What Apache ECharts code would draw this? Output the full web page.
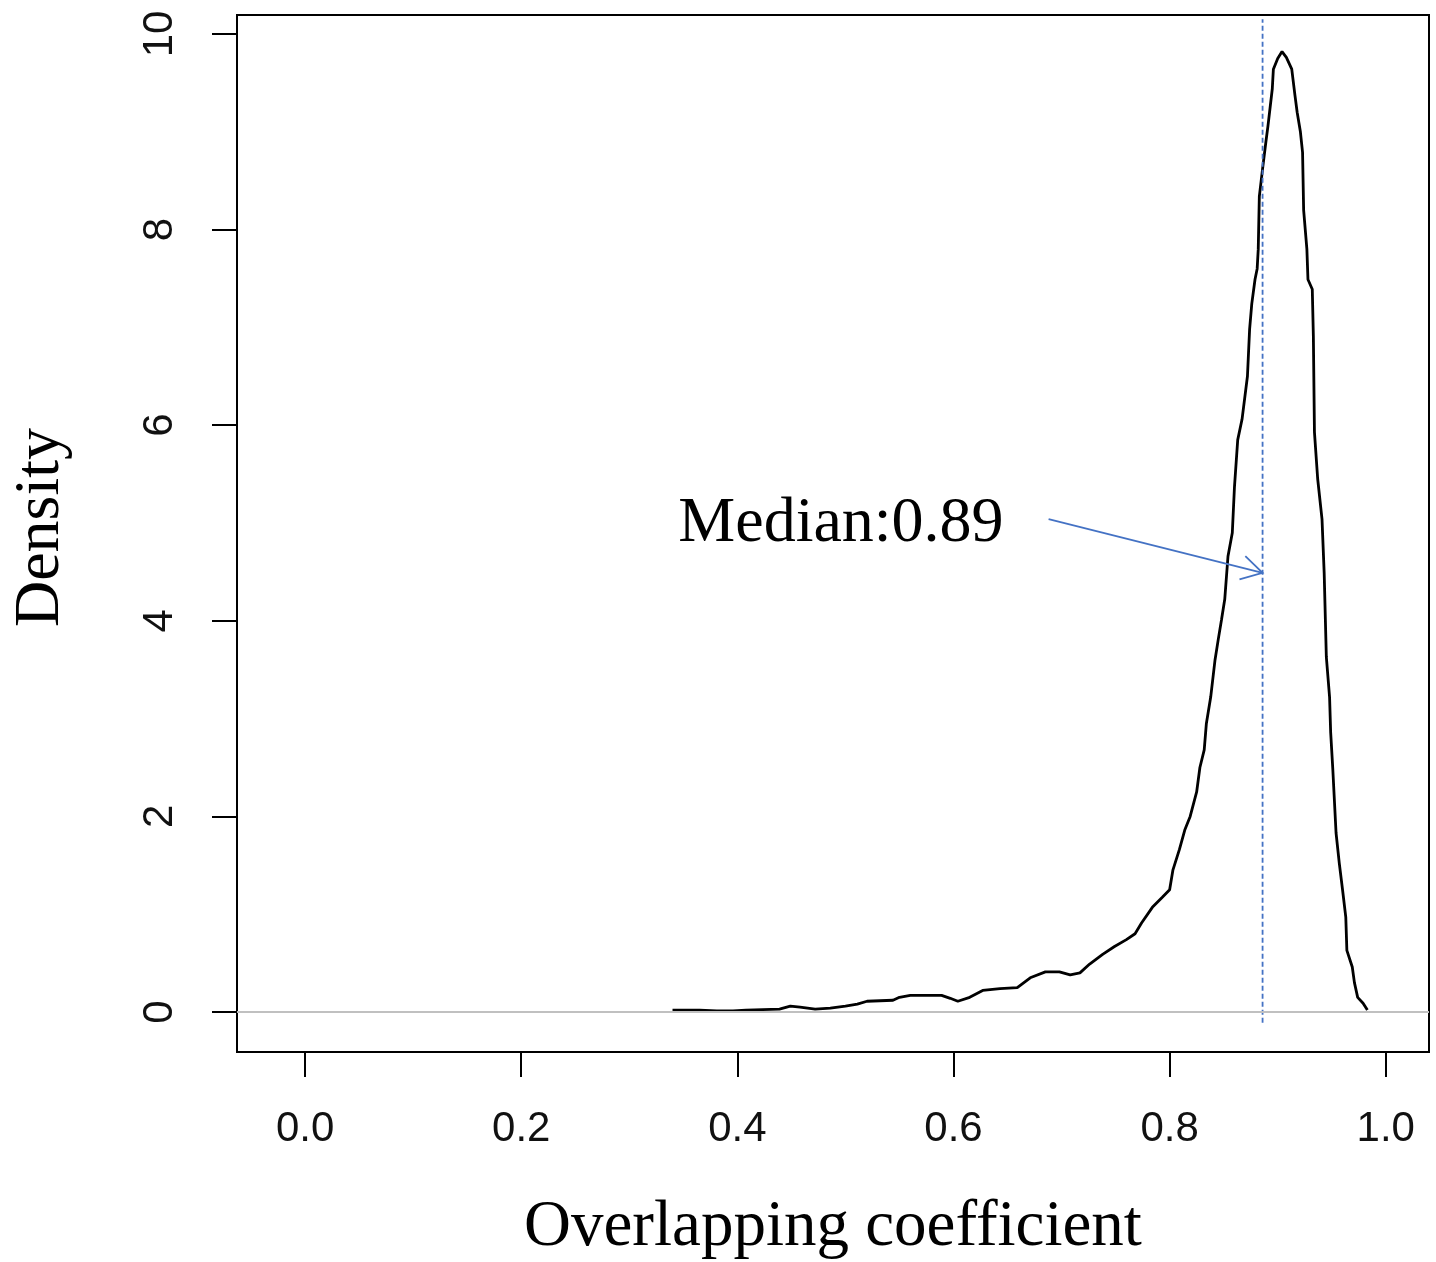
<!DOCTYPE html>
<html>
<head>
<meta charset="utf-8">
<script src="https://cdn.jsdelivr.net/npm/echarts@6/dist/echarts.min.js"></script>
<style>
html, body { margin: 0; padding: 0; background: #fff; }
#main { width: 1436px; height: 1262px; }
</style>
</head>
<body>
<div id="main"></div>
<script>
// density curve
var densityX = [0.340,0.347,0.365,0.381,0.396,0.408,0.439,0.449,0.458,0.472,
    0.486,0.500,0.511,0.520,0.544,0.550,0.560,0.574,0.589,0.597,
    0.604,0.615,0.627,0.643,0.659,0.671,0.685,0.698,0.708,0.717,
    0.726,0.738,0.749,0.760,0.768,0.774,0.784,0.793,0.800,0.803,
    0.809,0.814,0.819,0.825,0.828,0.832,0.834,0.838,0.842,0.845,
    0.848,0.851,0.854,0.858,0.860,0.863,0.867,0.872,0.874,0.876,
    0.879,0.881,0.882,0.883,0.886,0.889,0.891,0.895,0.896,0.900,
    0.904,0.908,0.913,0.916,0.918,0.921,0.923,0.924,0.927,0.928,
    0.932,0.933,0.934,0.937,0.941,0.943,0.945,0.948,0.949,0.951,
    0.954,0.957,0.960,0.963,0.964,0.969,0.971,0.974,0.979,0.983];
var densityY = [0.02,0.02,0.02,0.01,0.01,0.02,0.03,0.06,0.05,0.03,
    0.04,0.06,0.08,0.11,0.12,0.15,0.17,0.17,0.17,0.14,
    0.11,0.15,0.22,0.24,0.25,0.35,0.41,0.41,0.38,0.40,
    0.49,0.59,0.67,0.74,0.80,0.91,1.07,1.17,1.25,1.45,
    1.66,1.86,2.00,2.25,2.50,2.68,2.95,3.22,3.60,3.81,
    4.01,4.22,4.66,4.90,5.37,5.85,6.06,6.50,6.98,7.24,
    7.49,7.60,7.80,8.34,8.62,8.89,9.06,9.44,9.64,9.75,
    9.82,9.76,9.64,9.37,9.20,9.00,8.79,8.20,7.80,7.49,
    7.39,6.91,5.93,5.45,5.04,4.49,3.63,3.22,2.86,2.48,
    1.83,1.52,1.25,0.97,0.63,0.46,0.30,0.15,0.09,0.02];

var medianValue = 0.886;
var medianSpan = [-0.11, 10.15];
var medianLabel = 'Median:0.89';
var arrowFrom = [0.688, 5.04];
var arrowTo = [0.886, 4.49];

var xTicks = [0, 0.2, 0.4, 0.6, 0.8, 1.0];
var yTicks = [0, 2, 4, 6, 8, 10];

var curve = [];
for (var i = 0; i < densityX.length; i++) {
    curve.push([densityX[i], densityY[i]]);
}
var medianLine = [[medianValue, medianSpan[0]], [medianValue, medianSpan[1]]];

var blue = '#4472c4';
var serif = '"Liberation Serif", "Times New Roman", serif';
var sans = '"Liberation Sans", Arial, sans-serif';

var chart = echarts.init(document.getElementById('main'));

var option = {
    animation: false,
    backgroundColor: '#fff',
    grid: {
        left: 237,
        right: 7,
        top: 15,
        bottom: 210,
        containLabel: false,
        outerBoundsMode: 'none',
        show: true,
        borderColor: '#000',
        borderWidth: 2,
        backgroundColor: 'transparent'
    },
    xAxis: {
        type: 'value',
        min: -0.063,
        max: 1.040,
        name: 'Overlapping coefficient',
        nameLocation: 'middle',
        nameGap: 143,
        nameTextStyle: { fontFamily: serif, fontSize: 65, color: '#000' },
        axisLine: { show: false, onZero: false },
        splitLine: { show: false },
        axisTick: {
            show: true, inside: false, length: 25,
            customValues: xTicks,
            lineStyle: { color: '#000', width: 2 }
        },
        axisLabel: {
            customValues: xTicks,
            margin: 56,
            fontFamily: sans,
            fontSize: 42,
            color: '#111',
            formatter: function (v) { return v.toFixed(1); }
        }
    },
    yAxis: {
        type: 'value',
        min: -0.409,
        max: 10.194,
        name: 'Density',
        nameLocation: 'middle',
        nameGap: 164,
        nameTextStyle: { fontFamily: serif, fontSize: 64, color: '#000', padding: [0, 0, 0, 12] },
        axisLine: { show: false, onZero: false },
        splitLine: { show: false },
        axisTick: {
            show: true, inside: false, length: 25,
            customValues: yTicks,
            lineStyle: { color: '#000', width: 2 }
        },
        axisLabel: {
            customValues: yTicks,
            rotate: 90,
            margin: 56,
            fontFamily: sans,
            fontSize: 42,
            color: '#111',
            formatter: function (v) { return String(v); }
        }
    },
    series: [
        {
            type: 'line',
            name: 'density',
            data: curve,
            showSymbol: false,
            smooth: false,
            lineStyle: { color: '#000', width: 2.8 },
            z: 3,
            markLine: {
                silent: true,
                symbol: 'none',
                label: { show: false },
                lineStyle: { color: '#c0c0c0', width: 2, type: 'solid' },
                data: [{ yAxis: 0 }]
            }
        },
        {
            type: 'line',
            name: 'median',
            data: medianLine,
            showSymbol: false,
            lineStyle: { color: blue, width: 1.8, type: [5, 3] },
            z: 4
        },
        {
            type: 'custom',
            name: 'arrow',
            data: [arrowFrom],
            z: 5,
            renderItem: function (params, api) {
                var s = api.coord(arrowFrom);
                var e = api.coord(arrowTo);
                var ang = Math.atan2(e[1] - s[1], e[0] - s[0]);
                var len = 24, spread = Math.PI / 6;
                var p1 = [e[0] - len * Math.cos(ang - spread), e[1] - len * Math.sin(ang - spread)];
                var p2 = [e[0] - len * Math.cos(ang + spread), e[1] - len * Math.sin(ang + spread)];
                return {
                    type: 'group',
                    children: [
                        { type: 'line', shape: { x1: s[0], y1: s[1], x2: e[0], y2: e[1] },
                          style: { stroke: blue, lineWidth: 1.8 } },
                        { type: 'polyline', shape: { points: [p1, e, p2] },
                          style: { stroke: blue, fill: null, lineWidth: 1.8 } },
                        { type: 'text', x: s[0] - 45, y: s[1] + 5,
                          style: { text: medianLabel, font: '64px ' + serif, fill: '#000',
                                   align: 'right', verticalAlign: 'middle' } }
                    ]
                };
            }
        }
    ]
};

chart.setOption(option);
</script>
</body>
</html>
